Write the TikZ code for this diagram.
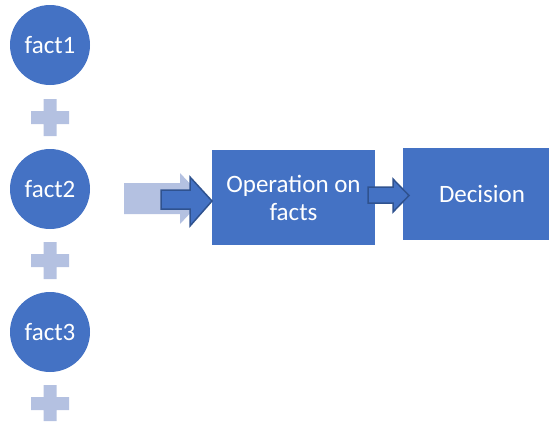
\documentclass[tikz,border=0pt]{standalone}
\usepackage{fontspec}
\setmainfont{Carlito}
\definecolor{mainblue}{HTML}{4472C4}
\definecolor{darkblue}{HTML}{2F528F}
\definecolor{lightblue}{HTML}{B4C1E1}
\tikzset{
  fact/.style={circle, fill=mainblue, minimum size=80pt, inner sep=0pt, text=white, font=\fontsize{25}{28}\selectfont},
  box/.style={rectangle, fill=mainblue, inner sep=0pt, text=white, align=center, font=\fontsize{25}{28}\selectfont},
  plusfill/.style={fill=lightblue},
  blockarrow/.style={draw=darkblue, line width=1.5pt, fill=mainblue, line join=miter},
}
\begin{document}
\begin{tikzpicture}[x=1pt,y=-1pt]
\useasboundingbox (0,0) rectangle (549,421);
\node[fact] (f1) at (50,45) {fact1};
\node[fact] (f2) at (50,189) {fact2};
\node[fact] (f3) at (50,332) {fact3};
\fill[plusfill] (31,111) rectangle (69,124) (43.5,99) rectangle (56.5,136);
\fill[plusfill] (31,254) rectangle (69,267) (43.5,242) rectangle (56.5,279);
\fill[plusfill] (31,397) rectangle (69,410) (43.5,385) rectangle (56.5,421);
\node[box, minimum width=163pt, minimum height=95pt] (op) at (293.5,197.5) {Operation on\\facts};
\node[box, minimum width=158pt, minimum height=92pt] (dec) at (482,194) {Decision};
% light arrow
\fill[plusfill] (124,183) -- (180,183) -- (180,173) -- (204,198.5) -- (180,224) -- (180,214) -- (124,214) -- cycle;
% dark arrow
\draw[blockarrow] (161,190) -- (190,190) -- (190,177) -- (212,201) -- (190,226) -- (190,209) -- (161,209) -- cycle;
% small arrow
\draw[blockarrow] (368,187) -- (393,187) -- (393,179) -- (409,195.5) -- (393,212) -- (393,203) -- (368,203) -- cycle;
\end{tikzpicture}
\end{document}
